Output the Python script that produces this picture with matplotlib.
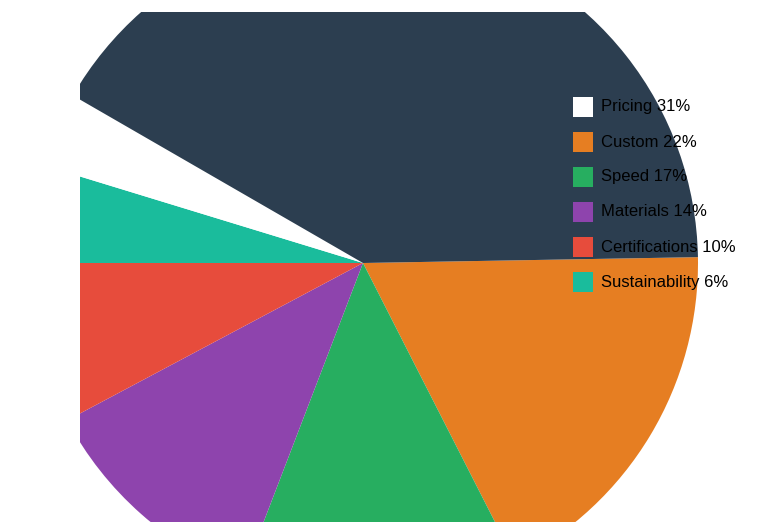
import matplotlib.pyplot as plt
from matplotlib.patches import Rectangle

plt.rcParams['font.family'] = ['Liberation Sans', 'DejaVu Sans']

# wedge sizes (degrees, clockwise from just above 3 o'clock)
wedge_sizes = [64, 48, 41, 28, 17, 13, 149]
wedge_colors = ['#e67e22', '#27ae60', '#8e44ad', '#e74c3c', '#1abc9c', '#ffffff', '#2c3e50']

legend_labels = ['Pricing 31%', 'Custom 22%', 'Speed 17%', 'Materials 14%',
                 'Certifications 10%', 'Sustainability 6%']
legend_colors = ['#ffffff', '#e67e22', '#27ae60', '#8e44ad', '#e74c3c', '#1abc9c']

W, H = 779, 522
cx, cy, r = 363, 263, 335
left, top = 80, 12

fig = plt.figure(figsize=(W / 100, H / 100), dpi=100)
ax = fig.add_axes([left / W, 0, (W - left) / W, (H - top) / H])
wedges, _ = ax.pie(wedge_sizes, colors=wedge_colors, startangle=1, counterclock=False,
                   radius=1, wedgeprops=dict(linewidth=0))
for w in wedges:
    w.set_clip_on(True)
    w.set_clip_path(ax.patch)
ax.set_xlim((left - cx) / r, (W - cx) / r)
ax.set_ylim((cy - H) / r, (cy - top) / r)
ax.set_aspect('auto')
ax.axis('off')

for i, (lab, col) in enumerate(zip(legend_labels, legend_colors)):
    y = 107 + 35 * i
    fig.patches.append(Rectangle((573 / W, 1 - (y + 10) / H), 20 / W, 20 / H,
                                 transform=fig.transFigure, facecolor=col, edgecolor='none'))
    fig.text(601 / W, 1 - y / H, lab, fontsize=12, va='center', ha='left', color='black')

fig.savefig('out.png', dpi=100)
